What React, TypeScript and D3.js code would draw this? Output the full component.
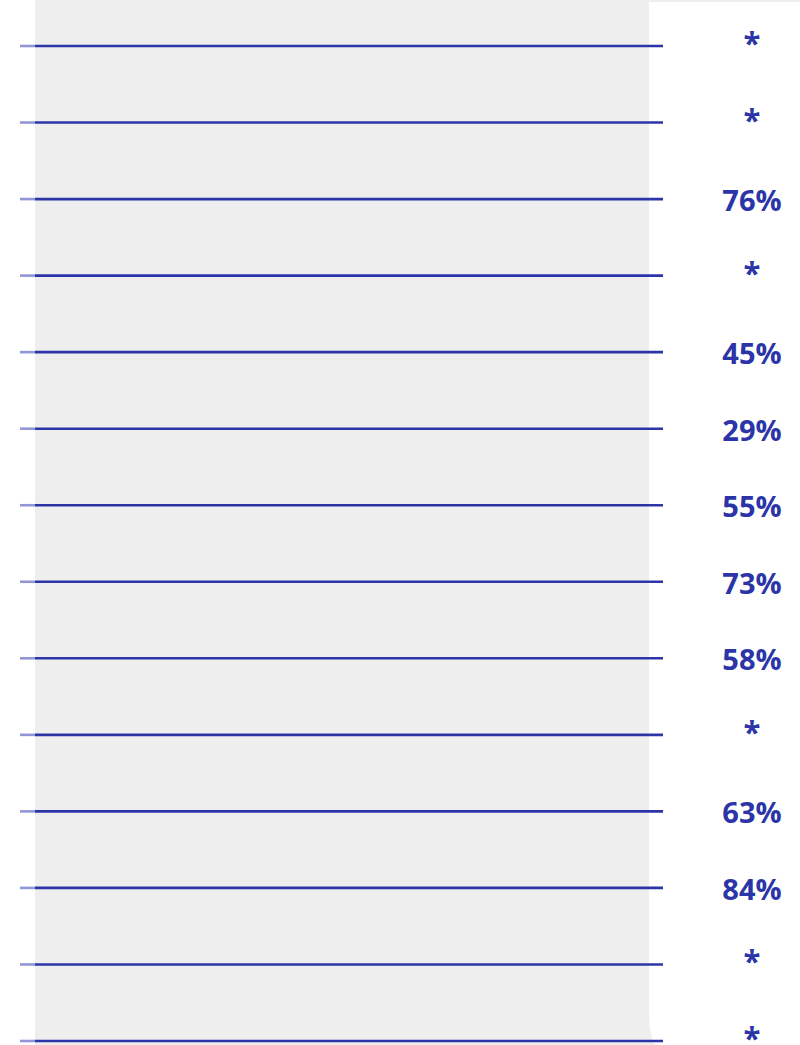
import React from 'react';
import * as d3 from 'd3';

// row labels, top to bottom ("*" = value suppressed)
const rows = ['r1', 'r2', 'r3', 'r4', 'r5', 'r6', 'r7', 'r8', 'r9', 'r10', 'r11', 'r12', 'r13', 'r14'];
const values = ['*', '*', '76%', '*', '45%', '29%', '55%', '73%', '58%', '*', '63%', '84%', '*', '*'];

const W = 800;
const H = 1045;
const blue = '#2b35a8';

const App = () => {
  const y = d3.scalePoint<string>().domain(rows).range([46, 1041]);

  return (
    <svg width={W} height={H} style={{position: 'absolute', left: 0, top: 0}}>
      <rect x={35} y={0} width={W - 35} height={H} fill="#eeeeee" />
      <rect x={649} y={2} width={W - 649} height={H} fill="#ffffff" />
      {/* rounded bottom corner of the label panel */}
      <path d={`M649,${H - 30} Q650,${H - 5} 656,${H} H649 Z`} fill="#eeeeee" />
      {rows.map((r, i) => {
        const yy = y(r)!;
        const star = values[i] === '*';
        return (
          <g key={r}>
            <line x1={20} x2={35} y1={yy} y2={yy} stroke="#9096d6" strokeWidth={2.6} />
            <line x1={35} x2={663} y1={yy} y2={yy} stroke={blue} strokeWidth={2.6} />
            <text
              x={752}
              y={yy + (star ? 8 : 12)}
              textAnchor="middle"
              fill={blue}
              fontFamily="'Open Sans', sans-serif"
              fontWeight="bold"
              fontSize={star ? 31 : 29}
            >
              {values[i]}
            </text>
          </g>
        );
      })}
    </svg>
  );
};

export default App;
